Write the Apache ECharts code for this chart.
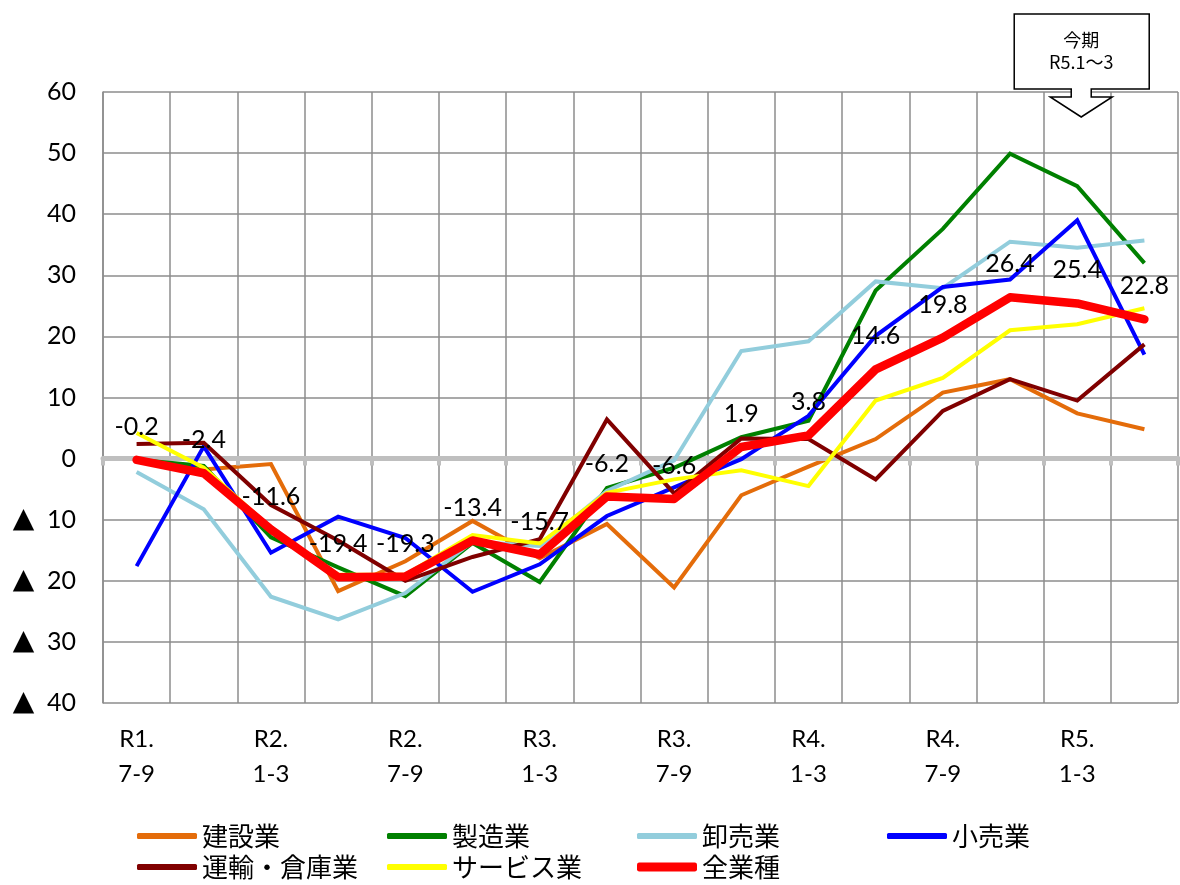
<!DOCTYPE html>
<html>
<head>
<meta charset="utf-8">
<script src="https://cdn.jsdelivr.net/npm/echarts@6/dist/echarts.min.js"></script>
<style>
  html, body { margin: 0; padding: 0; background: #fff; }
  #chart { width: 1180px; height: 885px; }
</style>
</head>
<body>
<div id="chart"></div>
<script>
// Quarterly categories (令和 year + months)
const categories = [
  'R1.\n7-9', 'R1.\n10-12', 'R2.\n1-3', 'R2.\n4-6', 'R2.\n7-9', 'R2.\n10-12',
  'R3.\n1-3', 'R3.\n4-6', 'R3.\n7-9', 'R3.\n10-12', 'R4.\n1-3', 'R4.\n4-6',
  'R4.\n7-9', 'R4.\n10-12', 'R5.\n1-3', 'R5.\n4-6'
];

// DI by industry
const construction = [-0.3, -1.8, -0.9, -21.7, -16.8, -10.2, -16.3, -10.7, -21.1, -6.0, -1.3, 3.2, 10.8, 13.0, 7.4, 4.8];
const manufacturing = [-0.2, -1.2, -12.9, -17.8, -22.5, -13.8, -20.2, -4.8, -1.5, 3.5, 6.2, 27.5, 37.6, 49.9, 44.6, 32.0];
const wholesale = [-2.2, -8.3, -22.6, -26.3, -22.0, -13.6, -14.3, -5.3, -0.3, 17.6, 19.2, 29.0, 27.9, 35.5, 34.5, 35.7];
const retail = [-17.6, 2.0, -15.4, -9.5, -13.0, -21.8, -17.3, -9.4, -4.7, -0.1, 7.0, 20.1, 28.1, 29.3, 39.0, 17.0];
const transport = [2.4, 2.6, -7.6, -13.4, -20.0, -16.1, -13.2, 6.4, -5.7, 3.3, 3.2, -3.4, 7.8, 13.0, 9.5, 18.7];
const services = [4.2, -1.5, -11.4, -19.0, -19.0, -12.5, -13.9, -5.6, -3.4, -1.9, -4.5, 9.5, 13.2, 21.0, 22.0, 24.6];
const allIndustries = [-0.2, -2.4, -11.6, -19.4, -19.3, -13.4, -15.7, -6.2, -6.6, 1.9, 3.8, 14.6, 19.8, 26.4, 25.4, 22.8];

const yTicks = { min: -40, max: 60, interval: 10 };

const seriesDefs = [
  { name: '建設業', data: construction, color: '#E46C0A', width: 4 },
  { name: '製造業', data: manufacturing, color: '#008000', width: 4 },
  { name: '卸売業', data: wholesale, color: '#92CDDC', width: 4 },
  { name: '小売業', data: retail, color: '#0000FF', width: 4 },
  { name: '運輸・倉庫業', data: transport, color: '#800000', width: 4 },
  { name: 'サービス業', data: services, color: '#FFFF00', width: 4 },
  { name: '全業種', data: allIndustries, color: '#FF0000', width: 8.5, labels: true }
];

const LATIN = 'Lato, "Noto Sans CJK JP", sans-serif';
const CJK = '"Noto Sans CJK JP", sans-serif';

const series = seriesDefs.map(function (d, i) {
  return {
    name: d.name,
    type: 'line',
    xAxisIndex: 0,
    yAxisIndex: 0,
    data: d.data,
    symbol: 'circle',
    symbolSize: 1,
    showSymbol: true,
    itemStyle: { color: 'rgba(0,0,0,0)', borderWidth: 0 },
    lineStyle: {
      color: d.color,
      width: d.width,
      cap: d.labels ? 'round' : 'butt',
      join: d.labels ? 'round' : 'miter'
    },
    emphasis: { disabled: true },
    z: 2 + i,
    label: d.labels ? {
      show: true,
      position: 'top',
      distance: 20,
      color: '#000',
      fontSize: 25,
      fontFamily: LATIN,
      formatter: function (p) { return p.value.toFixed(1); }
    } : { show: false }
  };
});

function legendItems(names) {
  return names.map(function (n) {
    const d = seriesDefs.find(function (s) { return s.name === n; });
    return { name: n, icon: 'roundRect', itemStyle: { color: d.color, opacity: 1, borderWidth: 0 } };
  });
}

const legendBase = {
  orient: 'horizontal',
  itemWidth: 60,
  itemGap: 0,
  selectedMode: false,
  textStyle: { fontSize: 26, fontFamily: CJK, color: '#000', width: 185, lineHeight: 30 }
};

const chart = echarts.init(document.getElementById('chart'), null, { renderer: 'canvas' });

chart.setOption({
  animation: false,
  backgroundColor: '#fff',
  grid: { left: 103, right: 2, top: 92, bottom: 182, containLabel: false },
  xAxis: [
    {
      type: 'category',
      data: categories,
      boundaryGap: true,
      position: 'bottom',
      axisLine: { show: false, onZero: false },
      axisTick: { show: false },
      splitLine: { show: true, interval: 0, lineStyle: { color: '#8c8c8c', width: 1.5 } },
      axisLabel: {
        interval: 1,
        margin: 19,
        fontSize: 24,
        lineHeight: 35,
        fontFamily: LATIN,
        color: '#000'
      }
    },
    {
      type: 'category',
      data: categories,
      boundaryGap: true,
      position: 'bottom',
      z: 3,
      axisLine: { show: true, onZero: true, lineStyle: { color: '#bfbfbf', width: 5 } },
      axisTick: { show: true, interval: 0, length: 7, lineStyle: { color: '#bfbfbf', width: 4 } },
      axisLabel: { show: false },
      splitLine: { show: false }
    }
  ],
  yAxis: {
    type: 'value',
    min: yTicks.min,
    max: yTicks.max,
    interval: yTicks.interval,
    axisLine: { show: true, lineStyle: { color: '#8c8c8c', width: 1.5 } },
    axisTick: { show: false },
    splitLine: { show: true, lineStyle: { color: '#8c8c8c', width: 1.5 } },
    axisLabel: {
      margin: 27,
      fontSize: 25,
      fontFamily: LATIN,
      color: '#000',
      formatter: function (v) { return v < 0 ? '{t|▲}  ' + (-v) : String(v); },
      rich: { t: { fontSize: 28, fontFamily: '"DejaVu Sans", sans-serif', color: '#000' } }
    }
  },
  legend: [
    Object.assign({}, legendBase, {
      left: 132, top: 816, itemHeight: 6,
      data: legendItems(['建設業', '製造業', '卸売業', '小売業'])
    }),
    Object.assign({}, legendBase, {
      left: 132, top: 847, itemHeight: 6,
      data: legendItems(['運輸・倉庫業', 'サービス業'])
    }),
    Object.assign({}, legendBase, {
      left: 632, top: 847, itemHeight: 9,
      data: legendItems(['全業種'])
    })
  ],
  series: series
});

// Callout marking the current quarter (R5.1～3)
const cx = chart.convertToPixel({ xAxisIndex: 0 }, categories[14]) + 4;
const gridTop = chart.convertToPixel({ yAxisIndex: 0 }, yTicks.max);
const boxTop = 14, boxBottom = gridTop - 3;
const pts = [
  [cx - 67, boxTop], [cx + 68, boxTop], [cx + 68, boxBottom],
  [cx + 10, boxBottom], [cx + 10, gridTop + 5], [cx + 31, gridTop + 5],
  [cx, gridTop + 25],
  [cx - 31, gridTop + 5], [cx - 10, gridTop + 5], [cx - 10, boxBottom],
  [cx - 67, boxBottom]
];
chart.setOption({
  graphic: [
    {
      type: 'polygon',
      z: 100,
      shape: { points: pts },
      style: { fill: '#fff', stroke: '#000', lineWidth: 1.5 }
    },
    {
      type: 'text',
      z: 101,
      x: cx,
      y: (boxTop + boxBottom) / 2,
      style: {
        text: '今期\nR5.1～3',
        align: 'center',
        verticalAlign: 'middle',
        font: '18px "Noto Sans CJK JP", sans-serif',
        lineHeight: 22,
        fill: '#000'
      }
    }
  ]
});
</script>
</body>
</html>
